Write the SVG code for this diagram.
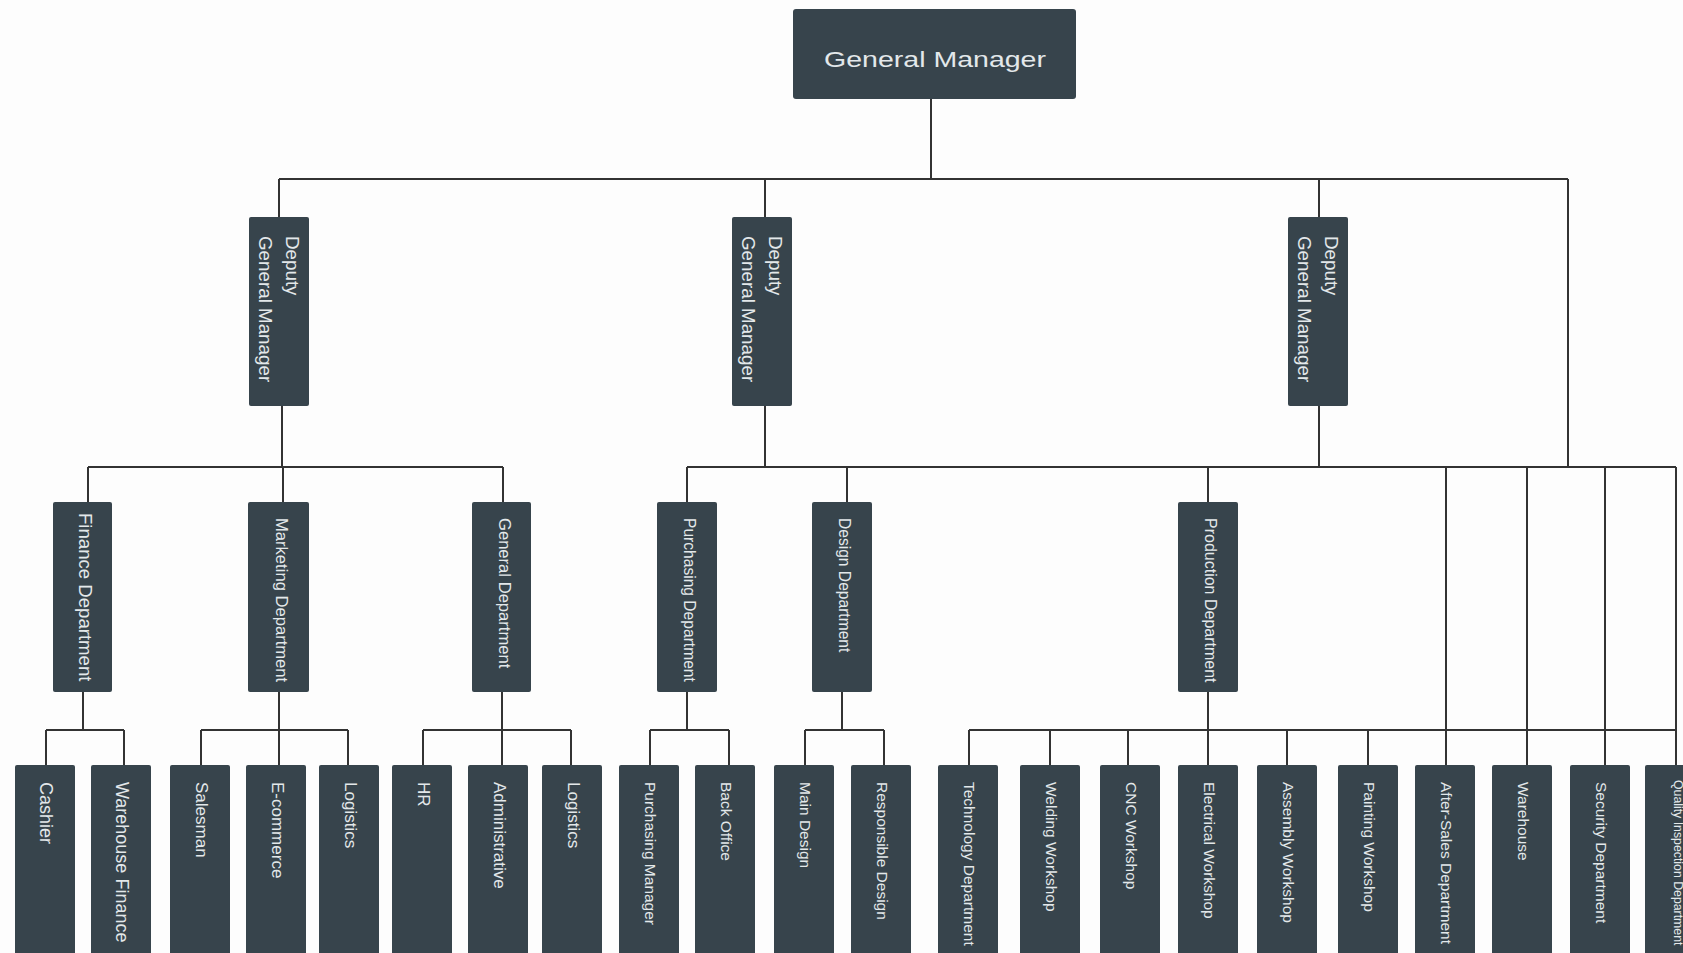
<svg xmlns="http://www.w3.org/2000/svg" width="1683" height="953" viewBox="0 0 1683 953">
<style>
.bg{fill:#fdfdfd}
.box{fill:#37444c}
.t{font-family:"Liberation Sans",Arial,sans-serif;fill:#e3e8ea;dominant-baseline:central}
.ln{stroke:#333;stroke-width:2;fill:none}
.l1{font-size:18.8px}
.l3a{font-size:18px}
.l3b{font-size:17px}
.l3c{font-size:15.5px}
</style>
<rect class="bg" x="0" y="0" width="1683" height="953"/>
<g id="connectors">
<path class="ln" d="M931,99 V179 M279,179 H1568 M279,179 V217 M765,179 V217 M1319,179 V217 M1568,179 V467"/>
<path class="ln" d="M282,406 V467 M88,467 H503 M88,467 V502 M283,467 V502 M503,467 V502"/>
<path class="ln" d="M765,406 V467 M687,467 H1676 M687,467 V502 M847,467 V502 M1208,467 V502 M1319,406 V467"/>
<path class="ln" d="M1446,467 V765 M1527,467 V765 M1605,467 V765 M1676,467 V765"/>
<path class="ln" d="M83,692 V730 M46,730 H124 M46,730 V765 M124,730 V765"/>
<path class="ln" d="M279,692 V730 M201,730 H348 M201,730 V765 M279,730 V765 M348,730 V765"/>
<path class="ln" d="M502,692 V730 M423,730 H571 M423,730 V765 M502,730 V765 M571,730 V765"/>
<path class="ln" d="M687,692 V730 M650,730 H729 M650,730 V765 M729,730 V765"/>
<path class="ln" d="M842,692 V730 M805,730 H884 M805,730 V765 M884,730 V765"/>
<path class="ln" d="M1208,692 V730 M969,730 H1676 M969,730 V765 M1050,730 V765 M1128,730 V765 M1208,730 V765 M1287,730 V765 M1368,730 V765"/>
</g>
<g id="general-manager">
<rect class="box" x="793" y="9" width="283" height="90" rx="3"/>
<text x="935" y="67" text-anchor="middle" style="font-family:'Liberation Sans',Arial,sans-serif;fill:#e3e8ea;font-size:21.5px" textLength="222" lengthAdjust="spacingAndGlyphs">General Manager</text>
</g>
<g id="deputy-1">
<rect class="box" x="249" y="217" width="60" height="189" rx="2"/>
<text class="t l1" transform="translate(279,236) rotate(90)"><tspan x="0" y="-14">Deputy</tspan><tspan x="0" y="13">General Manager</tspan></text>
</g>
<g id="deputy-2">
<rect class="box" x="732" y="217" width="60" height="189" rx="2"/>
<text class="t l1" transform="translate(762,236) rotate(90)"><tspan x="0" y="-14">Deputy</tspan><tspan x="0" y="13">General Manager</tspan></text>
</g>
<g id="deputy-3">
<rect class="box" x="1288" y="217" width="60" height="189" rx="2"/>
<text class="t l1" transform="translate(1318,236) rotate(90)"><tspan x="0" y="-14">Deputy</tspan><tspan x="0" y="13">General Manager</tspan></text>
</g>
<g id="finance-department">
<rect class="box" x="53" y="502" width="59" height="190" rx="2"/>
<text class="t" style="font-size:18.6px" transform="translate(85,513) rotate(90)">Finance Department</text>
</g>
<g id="marketing-department">
<rect class="box" x="248" y="502" width="61" height="190" rx="2"/>
<text class="t" style="font-size:16.6px" transform="translate(281,518) rotate(90)">Marketing Department</text>
</g>
<g id="general-department">
<rect class="box" x="472" y="502" width="59" height="190" rx="2"/>
<text class="t" style="font-size:16.6px" transform="translate(504,518) rotate(90)">General Department</text>
</g>
<g id="purchasing-department">
<rect class="box" x="657" y="502" width="60" height="190" rx="2"/>
<text class="t" style="font-size:15.6px" transform="translate(689,518) rotate(90)">Purchasing Department</text>
</g>
<g id="design-department">
<rect class="box" x="812" y="502" width="60" height="190" rx="2"/>
<text class="t" style="font-size:15.6px" transform="translate(844,518) rotate(90)">Design Department</text>
</g>
<g id="production-department">
<rect class="box" x="1178" y="502" width="60" height="190" rx="2"/>
<text class="t" style="font-size:16px" transform="translate(1210,518) rotate(90)">Production Department</text>
</g>
<g id="cashier"><rect class="box" x="15" y="765" width="60" height="200" rx="2"/><text class="t l3a" transform="translate(46,782) rotate(90)">Cashier</text></g>
<g id="warehouse-finance"><rect class="box" x="91" y="765" width="60" height="200" rx="2"/><text class="t l3a" transform="translate(122,782) rotate(90)">Warehouse Finance</text></g>
<g id="salesman"><rect class="box" x="170" y="765" width="60" height="200" rx="2"/><text class="t l3b" transform="translate(201,782) rotate(90)">Salesman</text></g>
<g id="e-commerce"><rect class="box" x="246" y="765" width="60" height="200" rx="2"/><text class="t l3b" transform="translate(277,782) rotate(90)">E-commerce</text></g>
<g id="logistics-1"><rect class="box" x="319" y="765" width="60" height="200" rx="2"/><text class="t l3b" transform="translate(350,782) rotate(90)">Logistics</text></g>
<g id="hr"><rect class="box" x="392" y="765" width="60" height="200" rx="2"/><text class="t l3b" transform="translate(423,782) rotate(90)">HR</text></g>
<g id="administrative"><rect class="box" x="468" y="765" width="60" height="200" rx="2"/><text class="t l3b" transform="translate(499,782) rotate(90)">Administrative</text></g>
<g id="logistics-2"><rect class="box" x="542" y="765" width="60" height="200" rx="2"/><text class="t l3b" transform="translate(573,782) rotate(90)">Logistics</text></g>
<g id="purchasing-manager"><rect class="box" x="619" y="765" width="60" height="200" rx="2"/><text class="t l3c" transform="translate(650,782) rotate(90)">Purchasing Manager</text></g>
<g id="back-office"><rect class="box" x="695" y="765" width="60" height="200" rx="2"/><text class="t l3c" transform="translate(726,782) rotate(90)">Back Office</text></g>
<g id="main-design"><rect class="box" x="774" y="765" width="60" height="200" rx="2"/><text class="t l3c" transform="translate(805,782) rotate(90)">Main Design</text></g>
<g id="responsible-design"><rect class="box" x="851" y="765" width="60" height="200" rx="2"/><text class="t l3c" transform="translate(882,782) rotate(90)">Responsible Design</text></g>
<g id="technology-department"><rect class="box" x="938" y="765" width="60" height="200" rx="2"/><text class="t l3c" transform="translate(969,782) rotate(90)">Technology Department</text></g>
<g id="welding-workshop"><rect class="box" x="1020" y="765" width="60" height="200" rx="2"/><text class="t l3c" transform="translate(1051,782) rotate(90)">Welding Workshop</text></g>
<g id="cnc-workshop"><rect class="box" x="1100" y="765" width="60" height="200" rx="2"/><text class="t l3c" transform="translate(1131,782) rotate(90)">CNC Workshop</text></g>
<g id="electrical-workshop"><rect class="box" x="1178" y="765" width="60" height="200" rx="2"/><text class="t l3c" transform="translate(1209,782) rotate(90)">Electrical Workshop</text></g>
<g id="assembly-workshop"><rect class="box" x="1257" y="765" width="60" height="200" rx="2"/><text class="t l3c" transform="translate(1288,782) rotate(90)">Assembly Workshop</text></g>
<g id="painting-workshop"><rect class="box" x="1338" y="765" width="60" height="200" rx="2"/><text class="t l3c" transform="translate(1369,782) rotate(90)">Painting Workshop</text></g>
<g id="after-sales-department"><rect class="box" x="1415" y="765" width="60" height="200" rx="2"/><text class="t l3c" transform="translate(1446,782) rotate(90)">After-Sales Department</text></g>
<g id="warehouse"><rect class="box" x="1492" y="765" width="60" height="200" rx="2"/><text class="t l3c" transform="translate(1523,782) rotate(90)">Warehouse</text></g>
<g id="security-department"><rect class="box" x="1570" y="765" width="60" height="200" rx="2"/><text class="t l3c" transform="translate(1601,782) rotate(90)">Security Department</text></g>
<g id="quality-inspection-department"><rect class="box" x="1645" y="765" width="60" height="200" rx="2"/><text class="t" style="font-size:12.3px" transform="translate(1678,780) rotate(90)">Quality Inspection Department</text></g>
</svg>
